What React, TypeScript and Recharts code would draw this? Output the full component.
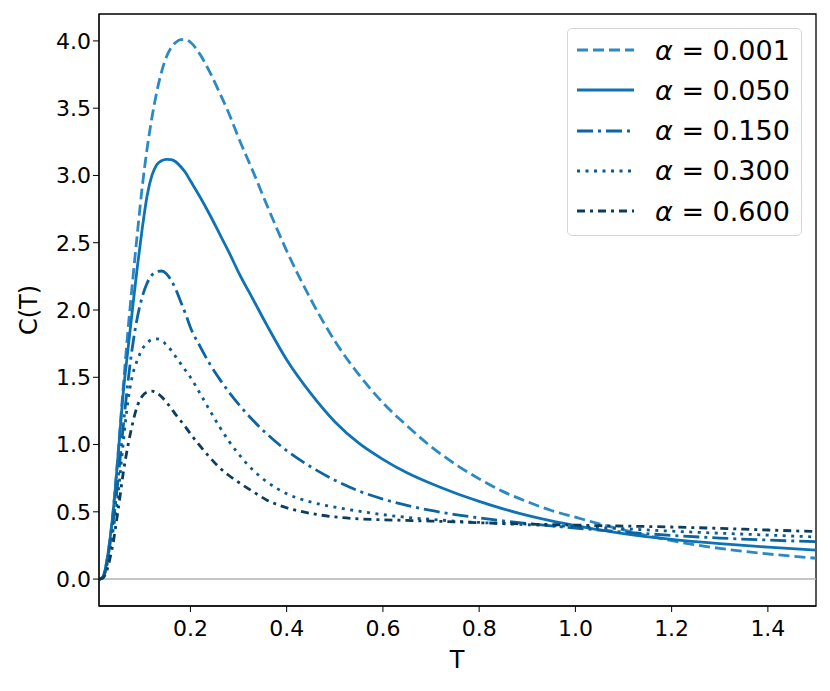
import { LineChart, Line, XAxis, YAxis, ReferenceLine, ReferenceArea } from "recharts";

const temps = [
  0.01, 0.015, 0.02, 0.025, 0.03, 0.035, 0.04, 0.045, 0.05, 0.06, 0.07, 0.08, 0.09, 0.1, 0.11, 0.12,
  0.13, 0.14, 0.15, 0.16, 0.17, 0.18, 0.19, 0.2, 0.22, 0.24, 0.26, 0.28, 0.3, 0.33, 0.36, 0.4, 0.45,
  0.5, 0.55, 0.6, 0.65, 0.7, 0.75, 0.8, 0.85, 0.9, 0.95, 1.0, 1.05, 1.1, 1.2, 1.3, 1.4, 1.5,
];

const alpha001 = [
  0, 0.005, 0.03, 0.11, 0.22, 0.36, 0.53, 0.73, 0.95, 1.41, 1.84, 2.22, 2.58, 2.92, 3.2, 3.43,
  3.62, 3.77, 3.88, 3.95, 3.99, 4.01, 4.01, 3.99, 3.9, 3.77, 3.62, 3.46, 3.28, 3.03, 2.77, 2.44, 2.08,
  1.77, 1.52, 1.31, 1.14, 0.985, 0.855, 0.745, 0.65, 0.575, 0.51, 0.46, 0.41, 0.365, 0.285, 0.228, 0.187, 0.155,
];

const alpha050 = [
  0, 0.005, 0.03, 0.11, 0.22, 0.36, 0.52, 0.72, 0.93, 1.37, 1.7, 2.02, 2.33, 2.61, 2.85, 3.0,
  3.08, 3.11, 3.12, 3.117, 3.1, 3.065, 3.02, 2.96, 2.84, 2.71, 2.57, 2.43, 2.28, 2.08, 1.88, 1.63, 1.38,
  1.17, 1.01, 0.89, 0.79, 0.71, 0.64, 0.578, 0.522, 0.473, 0.432, 0.397, 0.365, 0.338, 0.295, 0.263, 0.237, 0.215,
];

const alpha150 = [
  0, 0.004, 0.025, 0.09, 0.19, 0.31, 0.44, 0.58, 0.75, 1.12, 1.46, 1.74, 1.95, 2.1, 2.2, 2.26,
  2.285, 2.29, 2.27, 2.22, 2.15, 2.06, 1.97, 1.87, 1.73, 1.6, 1.49, 1.39, 1.3, 1.18, 1.075, 0.955, 0.835,
  0.735, 0.655, 0.595, 0.548, 0.51, 0.48, 0.455, 0.433, 0.413, 0.395, 0.379, 0.364, 0.35, 0.325, 0.305, 0.29, 0.278,
];

const alpha300 = [
  0, 0.004, 0.022, 0.08, 0.17, 0.27, 0.38, 0.5, 0.64, 1.0, 1.32, 1.52, 1.63, 1.71, 1.755, 1.78,
  1.785, 1.775, 1.74, 1.7, 1.65, 1.6, 1.55, 1.5, 1.38, 1.255, 1.135, 1.025, 0.93, 0.81, 0.72, 0.635, 0.573,
  0.535, 0.505, 0.479, 0.459, 0.444, 0.431, 0.421, 0.412, 0.404, 0.397, 0.39, 0.382, 0.374, 0.356, 0.341, 0.327, 0.313,
];

const alpha600 = [
  0, 0.003, 0.015, 0.05, 0.11, 0.19, 0.28, 0.4, 0.52, 0.78, 0.99, 1.16, 1.29, 1.36, 1.39, 1.397,
  1.385, 1.355, 1.315, 1.27, 1.22, 1.175, 1.13, 1.08, 0.99, 0.905, 0.83, 0.77, 0.72, 0.65, 0.585, 0.53, 0.488,
  0.462, 0.448, 0.441, 0.436, 0.431, 0.425, 0.419, 0.414, 0.409, 0.405, 0.401, 0.397, 0.394, 0.387, 0.377, 0.365, 0.353,
];

const xTicks = [0.2, 0.4, 0.6, 0.8, 1.0, 1.2, 1.4];
const yTicks = [0, 0.5, 1.0, 1.5, 2.0, 2.5, 3.0, 3.5, 4.0];

const series = [
  { key: "a001", label: "0.001", values: alpha001, color: "#2b89c4", dash: "11 5" },
  { key: "a050", label: "0.050", values: alpha050, color: "#0e73b5", dash: undefined },
  { key: "a150", label: "0.150", values: alpha150, color: "#0d64a0", dash: "16 5 3 5" },
  { key: "a300", label: "0.300", values: alpha300, color: "#0f5a8c", dash: "3 5.5" },
  { key: "a600", label: "0.600", values: alpha600, color: "#0c3c5e", dash: "8 5 3 5" },
];

const data = temps.map((t, i) => {
  const row: { [k: string]: number } = { T: t };
  series.forEach((s) => (row[s.key] = s.values[i]));
  return row;
});

const font = "DejaVu Sans, sans-serif";

export default function App() {
  return (
    <div style={{ position: "absolute", left: 0, top: 0, width: 830, height: 691, background: "#fff", fontFamily: font }}>
      <LineChart width={830} height={691} data={data} margin={{ top: 14, right: 14, bottom: 35, left: 0 }}>
        <XAxis
          dataKey="T"
          type="number"
          domain={[0.01, 1.5]}
          allowDataOverflow
          ticks={xTicks}
          tickFormatter={(v: number) => v.toFixed(1)}
          height={50}
          stroke="#000"
          tickSize={6}
          tickMargin={8}
          tick={{ fill: "#000", fontSize: 22, fontFamily: font }}
          label={() => (
            <text x={457} y={668} textAnchor="middle" fontSize={24} fontFamily={font} fill="#000">
              T
            </text>
          )}
        />
        <YAxis
          type="number"
          domain={[-0.2, 4.2]}
          allowDataOverflow
          ticks={yTicks}
          tickFormatter={(v: number) => v.toFixed(1)}
          width={99}
          stroke="#000"
          tickSize={6}
          tick={{ fill: "#000", fontSize: 22, fontFamily: font }}
          label={() => (
            <text x={37} y={310} transform="rotate(-90 37 310)" textAnchor="middle" fontSize={24} fontFamily={font} fill="#000">
              C(T)
            </text>
          )}
        />
        <ReferenceLine y={0} stroke="#b3b3b3" strokeWidth={1.5} />
        {series.map((s) => (
          <Line
            key={s.key}
            type="monotone"
            dataKey={s.key}
            stroke={s.color}
            strokeWidth={2.8}
            strokeDasharray={s.dash}
            dot={false}
            activeDot={false}
            isAnimationActive={false}
          />
        ))}
        <ReferenceArea x1={0.01} x2={1.5} y1={-0.2} y2={4.2} fill="none" stroke="#000" strokeWidth={1.3} />
      </LineChart>
      <div
        style={{
          position: "absolute",
          left: 567,
          top: 28,
          width: 235,
          height: 208,
          border: "1.5px solid #d6d6d6",
          borderRadius: 5,
          background: "rgba(255,255,255,0.8)",
          boxSizing: "border-box",
        }}
      >
        {series.map((s, i) => (
          <div key={s.key} style={{ position: "absolute", left: 9, top: 6 + i * 40.3, height: 30, display: "flex", alignItems: "center" }}>
            <svg width={58} height={10}>
              <line x1={0} y1={5} x2={57} y2={5} stroke={s.color} strokeWidth={2.8} strokeDasharray={s.dash} />
            </svg>
            <span style={{ marginLeft: 20, fontSize: 27, color: "#000", whiteSpace: "nowrap" }}>
              <i style={{ fontFamily: "DejaVu Sans", fontStyle: "italic" }}>α</i> = {s.label}
            </span>
          </div>
        ))}
      </div>
    </div>
  );
}
